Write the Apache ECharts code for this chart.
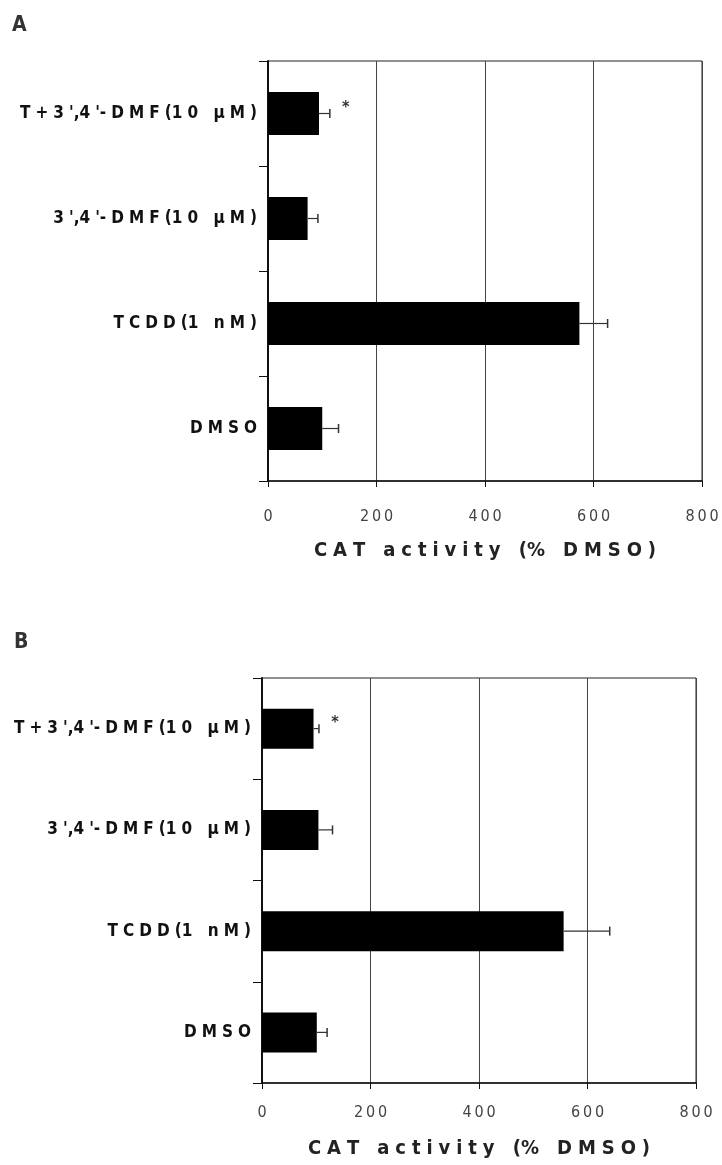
<!DOCTYPE html>
<html>
<head>
<meta charset="utf-8">
<script src="https://cdn.jsdelivr.net/npm/echarts@6/dist/echarts.min.js"></script>
<style>
  html, body { margin: 0; padding: 0; background: #fff; }
  #chart { width: 722px; height: 1165px; }
</style>
</head>
<body>
<div id="chart"></div>
<script>
// ---- data (ECharts category order: bottom -> top) ----
const categories = ['DMSO', 'TCDD(1 nM)', "3',4'-DMF(10 μM)", "T+3',4'-DMF(10 μM)"];
const valuesA = [100, 574, 73, 94];
const errorsA = [30, 52, 19, 20];
const marksA  = ['', '', '', '*'];
const valuesB = [101, 556, 104, 95];
const errorsB = [19, 85, 26, 10];
const marksB  = ['', '', '', '*'];
const axisMin = 0, axisMax = 800, axisStep = 200;
const axisTitle = 'CAT activity (% DMSO)';
const panelLabels = ['A', 'B'];

const FONT = "'Liberation Sans Narrow', 'DejaVu Sans Condensed', 'Liberation Sans', Arial, sans-serif";
// letter-spaced text, imitating the wide tracking of the original figure
function spaced(s, sep) {
  sep = sep || '\u2004';
  let out = '';
  for (let i = 0; i < s.length; i++) {
    out += s[i];
    if (i < s.length - 1 && "',(".indexOf(s[i]) < 0) out += sep;
  }
  return out;
}

const chart = echarts.init(document.getElementById('chart'), null, { renderer: 'canvas' });

function makeAxes(gi, labelMargin, nameGap) {
  const x = {
    type: 'value', gridIndex: gi, min: axisMin, max: axisMax, interval: axisStep,
    name: spaced(axisTitle, '\u2004'), nameLocation: 'middle', nameGap: nameGap,
    nameTextStyle: { fontFamily: FONT, fontSize: 20, fontWeight: 'bold', color: '#222' },
    axisLine: { show: true, lineStyle: { color: '#111', width: 1.5 } },
    axisTick: { show: true, length: 6, lineStyle: { color: '#111' } },
    axisLabel: { fontFamily: FONT, fontSize: 16, color: '#444', margin: labelMargin,
                 formatter: v => spaced(String(v), '\u2009') },
    splitLine: { show: true, lineStyle: { color: '#444', width: 1 } }
  };
  const y = {
    type: 'category', gridIndex: gi, data: categories,
    axisLine: { show: true, lineStyle: { color: '#111', width: 2 } },
    axisTick: { show: true, length: 9, alignWithLabel: false, lineStyle: { color: '#111' } },
    axisLabel: { fontFamily: FONT, fontSize: 17, fontWeight: 'bold', color: '#111', margin: 11,
                 formatter: v => spaced(v) },
    splitLine: { show: false }
  };
  return [x, y];
}

function errSeries(gi, values, errors, marks) {
  return {
    type: 'custom', xAxisIndex: gi, yAxisIndex: gi, z: 5,
    data: values.map((v, i) => [i, v, errors[i]]),
    encode: { x: [1, 2], y: 0 },
    renderItem: function (params, api) {
      const idx = api.value(0), val = api.value(1), err = api.value(2);
      const s = api.coord([val, idx]);
      const e = api.coord([val + err, idx]);
      const children = [
        { type: 'line', shape: { x1: s[0], y1: s[1], x2: e[0], y2: e[1] },
          style: { stroke: '#333', lineWidth: 1.2 } },
        { type: 'line', shape: { x1: e[0], y1: e[1] - 4.5, x2: e[0], y2: e[1] + 4.5 },
          style: { stroke: '#333', lineWidth: 1.5 } }
      ];
      const m = marks[params.dataIndex];
      if (m) {
        children.push({ type: 'text', x: e[0] + 16, y: e[1] - 6,
          style: { text: m, fontFamily: FONT, fontSize: 16, fontWeight: 'bold', fill: '#333',
                   align: 'center', verticalAlign: 'middle' } });
      }
      return { type: 'group', children: children };
    }
  };
}

const axA = makeAxes(0, 28, 60);
const axB = makeAxes(1, 22, 56);

chart.setOption({
  animation: false,
  backgroundColor: '#fff',
  graphic: [
    { type: 'text', left: 12, top: 15, style: { text: panelLabels[0], fontFamily: FONT, fontSize: 21, fontWeight: 'bold', fill: '#333' } },
    { type: 'text', left: 14, top: 632, style: { text: panelLabels[1], fontFamily: FONT, fontSize: 21, fontWeight: 'bold', fill: '#333' } }
  ],
  grid: [
    { left: 268, top: 61, width: 434, height: 420, containLabel: false, outerBoundsMode: 'none',
      show: true, borderColor: '#222', borderWidth: 1, backgroundColor: 'transparent' },
    { left: 262, top: 678, width: 434, height: 405, containLabel: false, outerBoundsMode: 'none',
      show: true, borderColor: '#222', borderWidth: 1, backgroundColor: 'transparent' }
  ],
  xAxis: [axA[0], axB[0]],
  yAxis: [axA[1], axB[1]],
  series: [
    { type: 'bar', xAxisIndex: 0, yAxisIndex: 0, data: valuesA, barWidth: 43,
      itemStyle: { color: '#000' }, z: 3 },
    errSeries(0, valuesA, errorsA, marksA),
    { type: 'bar', xAxisIndex: 1, yAxisIndex: 1, data: valuesB, barWidth: 40,
      itemStyle: { color: '#000' }, z: 3 },
    errSeries(1, valuesB, errorsB, marksB)
  ]
});
</script>
</body>
</html>
